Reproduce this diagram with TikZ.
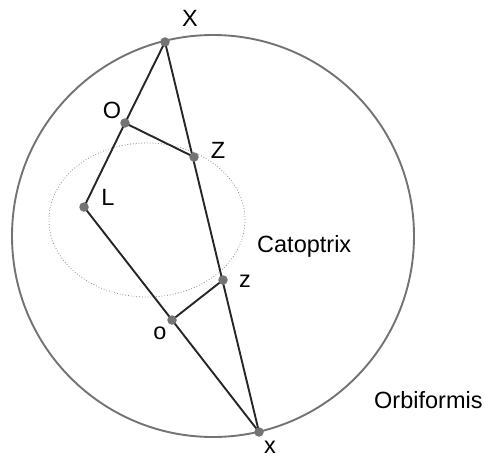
\documentclass[tikz,border=0pt]{standalone}
\usepackage{fontspec}
\setmainfont{Liberation Sans}
\usepackage{tikz}
\usetikzlibrary{positioning}

\tikzset{
  ray/.style={line width=1.9pt, draw=black!85},
  pt/.style={circle, fill=black!55, inner sep=0pt, minimum size=9.5pt},
  lbl/.style={inner sep=0pt, font=\fontsize{23.5}{27}\selectfont},
}

\begin{document}
\begin{tikzpicture}[x=1pt, y=-1pt]
        \useasboundingbox (0,0) rectangle (485,458);
        % mirror and sphere
        \draw[black!55, line width=1.9pt] (213,236) circle (201pt);
        \draw[black!45, dotted, line width=0.8pt] (147,220) ellipse (98pt and 77pt);

        \coordinate (X) at (165,42);
        \coordinate (O) at (125,123);
        \coordinate (Z) at (194,157);
        \coordinate (L) at (84,207);
        \coordinate (z) at (223,280);
        \coordinate (o) at (172,320);
        \coordinate (x) at (259,432);

        \draw[ray] (X) -- (x);
        \draw[ray] (X) -- (O) -- (L) -- (o) -- (x);
        \draw[ray] (O) -- (Z);
        \draw[ray] (o) -- (z);

        \foreach \p in {X,O,Z,L,z,o,x}
            \node[pt] (\p dot) at (\p) {};

        \node[lbl] (lX) at (190,18) {X};
        \node[lbl] (lO) at (112,110) {O};
        \node[lbl] (lZ) at (218,150) {Z};
        \node[lbl] (lL) at (108,197) {L};
        \node[lbl] (lz) at (245,281) {z};
        \node[lbl] (lo) at (160,333) {o};
        \node[lbl] (lx) at (270,447) {x};
        \node[lbl, anchor=base west] (cat) at (257,252) {Catoptrix};
        \node[lbl, anchor=base west] (orb) at (374,408) {Orbiformis};
\end{tikzpicture}
\end{document}
